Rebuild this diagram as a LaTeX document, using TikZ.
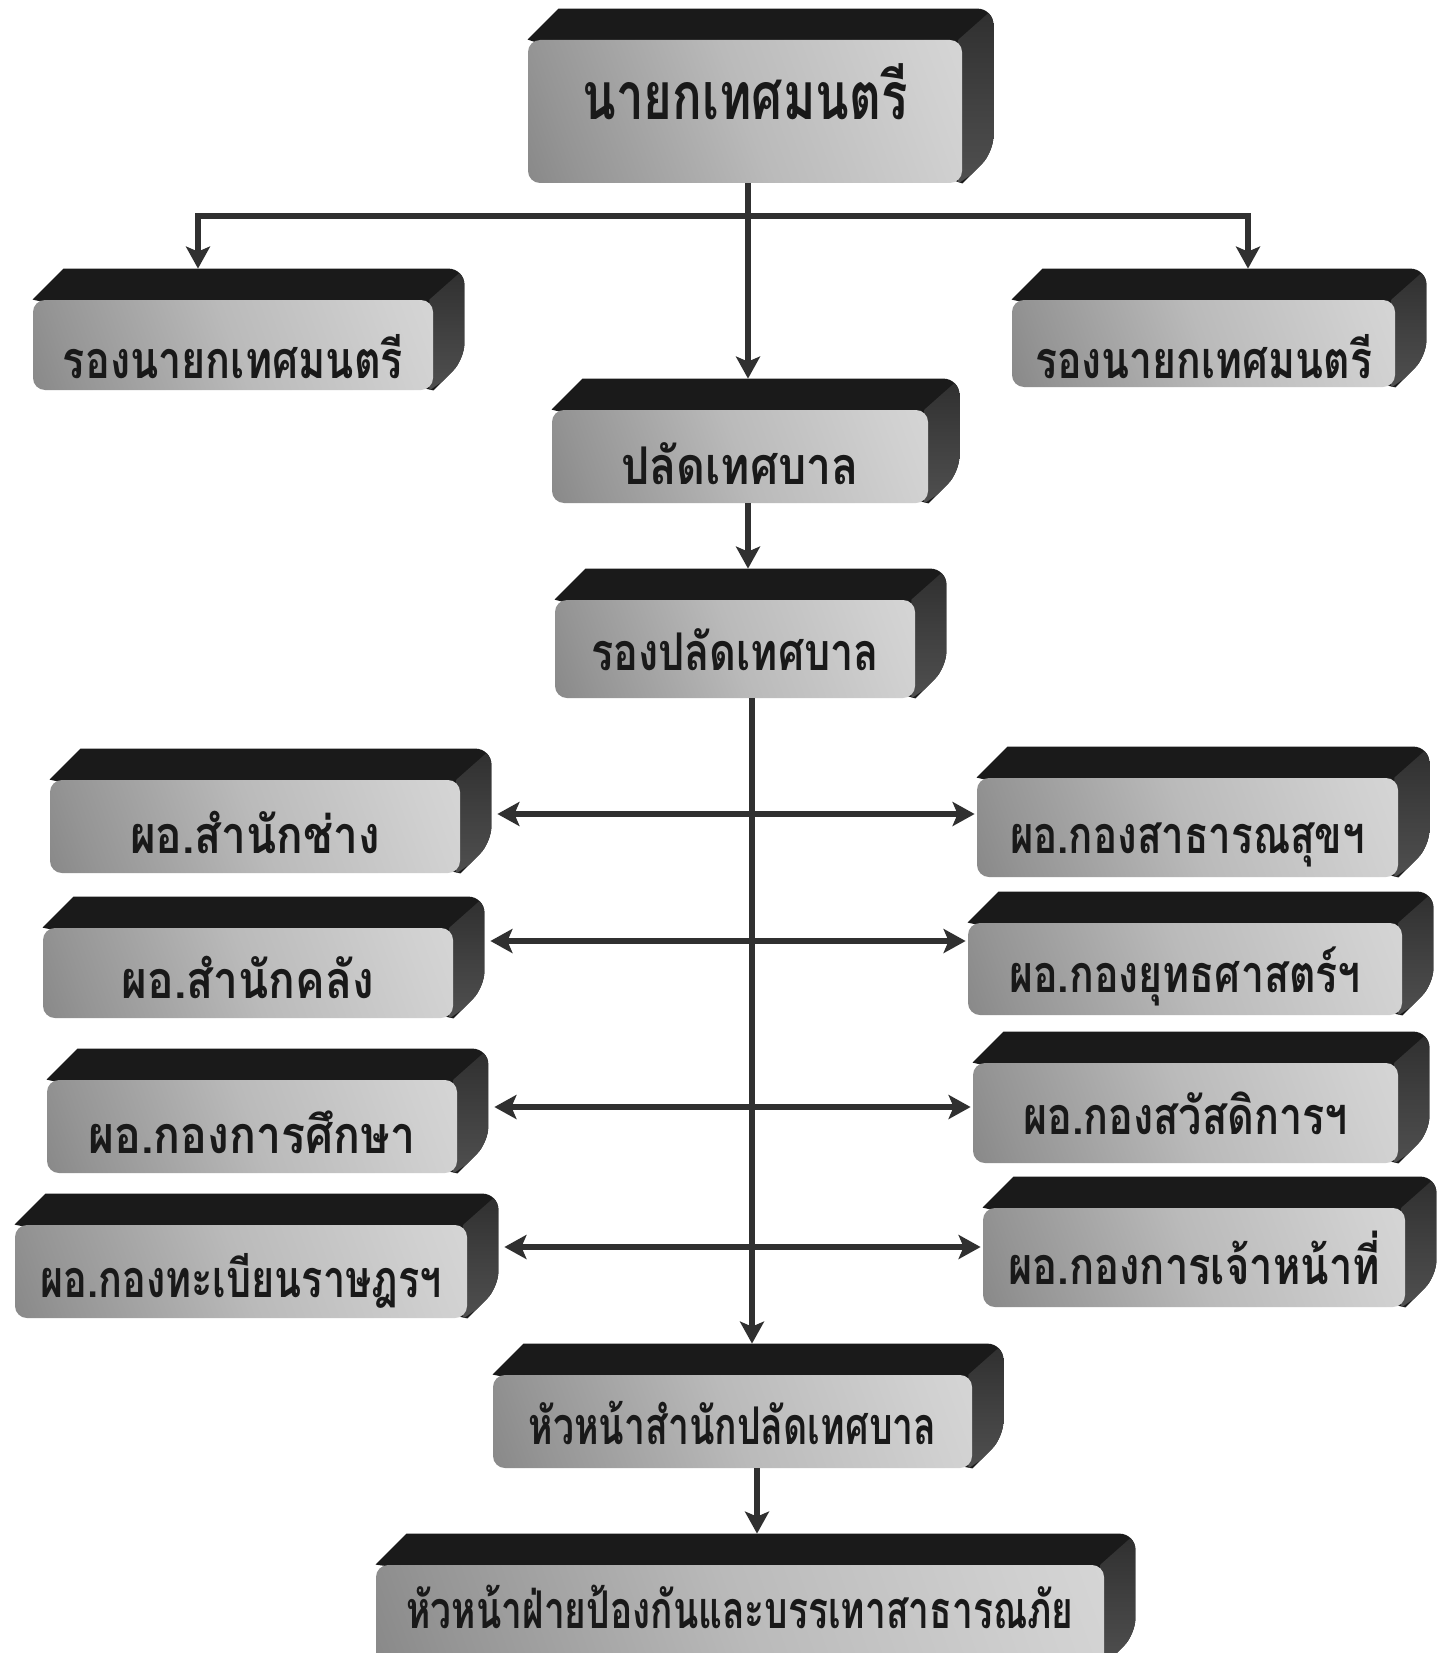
\documentclass[tikz,border=0pt]{standalone}
\usepackage{fontspec}
\newfontfamily\thaifont[Script=Thai]{Loma}
\usetikzlibrary{arrows.meta}
\pgfdeclarelayer{bg}
\pgfsetlayers{bg,main}
\definecolor{fA}{HTML}{6A6A6A}
\definecolor{fB}{HTML}{959595}
\definecolor{fC}{HTML}{BABABA}
\definecolor{fD}{HTML}{D0D0D0}
\definecolor{fE}{HTML}{E2E2E2}
\definecolor{sA}{HTML}{5E5E5E}
\definecolor{sB}{HTML}{404040}
\definecolor{sC}{HTML}{1E1E1E}
\definecolor{topc}{HTML}{1A1A1A}
\definecolor{linec}{HTML}{303030}
\pgfdeclareverticalshading{facesh}{100bp}{color(0bp)=(fA); color(25bp)=(fB); color(50bp)=(fC); color(75bp)=(fD); color(100bp)=(fE)}
\pgfdeclareverticalshading{sidesh}{100bp}{color(0bp)=(sA); color(50bp)=(sB); color(100bp)=(sC)}
\newcommand\fitw[2]{\setbox0=\hbox{#2}\pgfmathsetmacro\fitfac{#1/\the\wd0}\scalebox{\fitfac}[1]{\box0}}
\newcommand\dep{31}
% name, x1, y1, x2, y2, baseline, text width (px), font size (pt), text
\newcommand\tbox[9]{%
  \pgfmathsetmacro\bw{(#4-#2)*0.5}%
  \pgfmathsetmacro\bh{(#5-#3)*0.5}%
  \pgfmathsetmacro\bcx{(#2+#4)/2}%
  \pgfmathsetmacro\bcy{(#3+#5)/2}%
  \pgfmathsetmacro\bth{#6-(#3+#5)/2}%
  \pgfmathsetmacro\btw{#7*0.5}%
  \node[face, minimum width=\bw pt, minimum height=\bh pt, text height=\bth pt, text depth=0pt,
        font=\thaifont\bfseries\fontsize{#8pt}{#8pt}\selectfont] (#1) at (\bcx,\bcy) {\fitw{\btw}{#9}};
  \coordinate (#1-t) at ([shift={(\dep,-\dep)}]#1.north);
  \coordinate (#1-r) at ([shift={(\dep,-\dep)}]#1.east);
  \begin{pgfonlayer}{bg}
    \fill[topc] (#1.north west) -- ++(\dep,-\dep) [rounded corners=8pt] -- ([shift={(\dep,-\dep)}]#1.north east)
      -- ([shift={(\dep,-\dep)}]#1.south east) [sharp corners] -- (#1.south east) -- cycle;
    \begin{scope}
      \clip (#1.north west) -- ++(\dep,-\dep) [rounded corners=8pt] -- ([shift={(\dep,-\dep)}]#1.north east)
        -- ([shift={(\dep,-\dep)}]#1.south east) [sharp corners] -- (#1.south east) -- cycle;
      \shade[shading=sidesh] ([xshift=-2pt]#1.north east) -- ([shift={(\dep,-\dep)}]#1.north east)
        -- ([shift={(\dep+10,-\dep)}]#1.south east) -- ([xshift=-2pt]#1.south east) -- cycle;
    \end{scope}
  \end{pgfonlayer}
}
\begin{document}
\begin{tikzpicture}[x=0.5pt,y=-0.5pt,
  face/.style={rounded corners=6pt, shade, shading=facesh, shading angle=-70, inner sep=0pt, text=black!90},
  conn/.style={draw=linec, line width=3pt, line join=miter, -{Stealth[length=11pt,width=12pt,inset=2.5pt]}},
  dconn/.style={draw=linec, line width=3pt, {Stealth[length=11pt,width=12pt,inset=2.5pt]}-{Stealth[length=11pt,width=12pt,inset=2.5pt]}, shorten <=3pt, shorten >=1pt}]
\begin{pgfonlayer}{bg}
\fill[white] (0,0) rectangle (1443,1653);
\end{pgfonlayer}
\useasboundingbox (0,0) rectangle (1443,1653);
\tbox{A}{528}{40}{962}{183}{120}{325}{33}{นายกเทศมนตรี}
\tbox{B}{33}{300}{433}{390}{378}{340}{26}{รองนายกเทศมนตรี}
\tbox{C}{1012}{300}{1395}{387}{378}{337}{26}{รองนายกเทศมนตรี}
\tbox{D}{552}{410}{928}{503}{484}{238}{26}{ปลัดเทศบาล}
\tbox{E}{555}{600}{915}{698}{670}{288}{26}{รองปลัดเทศบาล}
\tbox{F}{50}{780}{460}{873}{853}{250}{26}{ผอ.สำนักช่าง}
\tbox{G}{43}{928}{453}{1018}{998}{252}{26}{ผอ.สำนักคลัง}
\tbox{H}{47}{1080}{457}{1173}{1153}{327}{26}{ผอ.กองการศึกษา}
\tbox{I}{15}{1225}{467}{1318}{1297}{401}{26}{ผอ.กองทะเบียนราษฎรฯ}
\tbox{J}{977}{778}{1398}{877}{853}{355}{26}{ผอ.กองสาธารณสุขฯ}
\tbox{K}{968}{923}{1402}{1015}{992}{352}{26}{ผอ.กองยุทธศาสตร์ฯ}
\tbox{L}{973}{1063}{1398}{1163}{1134}{325}{26}{ผอ.กองสวัสดิการฯ}
\tbox{M}{983}{1208}{1405}{1307}{1284}{372}{26}{ผอ.กองการเจ้าหน้าที่}
\tbox{N}{493}{1375}{972}{1468}{1444}{408}{26}{หัวหน้าสำนักปลัดเทศบาล}
\tbox{O}{376}{1565}{1104}{1665}{1628}{667}{26}{หัวหน้าฝ่ายป้องกันและบรรเทาสาธารณภัย}
\coordinate (sp1) at (748,0);
\coordinate (sp2) at (752,0);
\coordinate (sp3) at (757,0);
\coordinate (jL) at (198,216);
\coordinate (jR) at (1248,216);
\coordinate (r1) at (752,814);
\coordinate (r2) at (752,941);
\coordinate (r3) at (752,1107);
\coordinate (r4) at (752,1247);
\draw[conn] (A.south -| sp1) -- (D-t -| sp1);
\draw[conn] (jR) -- (jL) -- (B-t -| jL);
\draw[conn] (jL) -- (jR) -- (C-t -| jR);
\draw[conn] (D.south -| sp1) -- (E-t -| sp1);
\draw[conn] (E.south -| sp2) -- (N-t -| sp2);
\draw[dconn] (F-r |- r1) -- (J.west |- r1);
\draw[dconn] (G-r |- r2) -- (K.west |- r2);
\draw[dconn] (H-r |- r3) -- (L.west |- r3);
\draw[dconn] (I-r |- r4) -- (M.west |- r4);
\draw[conn] (N.south -| sp3) -- (O-t -| sp3);
\end{tikzpicture}
\end{document}
